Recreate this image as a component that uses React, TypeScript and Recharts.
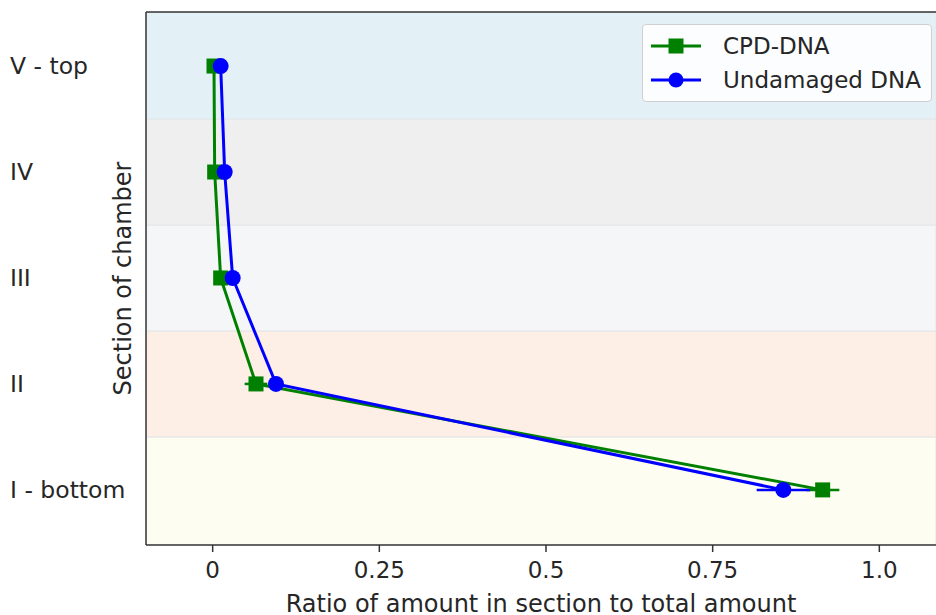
import React from "react";
import {
  ScatterChart,
  Scatter,
  XAxis,
  YAxis,
  ErrorBar,
  ReferenceArea,
  ReferenceLine,
} from "recharts";

const sections = ["I - bottom", "II", "III", "IV", "V - top"];
const cpdDna = [0.915, 0.065, 0.012, 0.003, 0.002];
const cpdErr = [0.025, 0.017, 0.003, 0.002, 0.002];
const undamagedDna = [0.856, 0.095, 0.03, 0.018, 0.012];
const undamagedErr = [0.04, 0.006, 0.004, 0.003, 0.002];
const bandColors = ["#fefdf1", "#fdeee6", "#f5f6f8", "#efefef", "#e3f1f7"];
const xTicks = [0, 0.25, 0.5, 0.75, 1.0];
const xTickLabels = ["0", "0.25", "0.5", "0.75", "1.0"];

const FONT = "DejaVu Sans, sans-serif";
const GREEN = "#008000";
const BLUE = "#0000ff";

const cpdData = sections.map((s, i) => ({ x: cpdDna[i], y: i, err: cpdErr[i] }));
const undData = sections.map((s, i) => ({ x: undamagedDna[i], y: i, err: undamagedErr[i] }));

const Square = (props: any) => (
  <rect x={props.cx - 7.5} y={props.cy - 7.5} width={15} height={15} fill={GREEN} />
);
const Dot = (props: any) => <circle cx={props.cx} cy={props.cy} r={8} fill={BLUE} />;

const YTick = (props: any) => {
  const { y, payload } = props;
  return (
    <text x={10} y={y} dy={8} textAnchor="start" fill="#262626" fontSize={23.5} fontFamily={FONT}>
      {sections[payload.value]}
    </text>
  );
};

const LegendBox = () => (
  <div
    style={{
      position: "absolute",
      left: 642,
      top: 24,
      width: 290,
      height: 78,
      boxSizing: "border-box",
      background: "rgba(255,255,255,0.85)",
      border: "1px solid #d0d0d0",
      borderRadius: 4,
      padding: "4px 6px",
      fontFamily: FONT,
      fontSize: 23,
      color: "#262626",
    }}
  >
    {[
      { name: "CPD-DNA", color: GREEN, square: true },
      { name: "Undamaged DNA", color: BLUE, square: false },
    ].map((e) => (
      <div key={e.name} style={{ display: "flex", alignItems: "center", height: 34 }}>
        <svg width={54} height={20} style={{ marginRight: 20 }}>
          <line x1={2} y1={10} x2={52} y2={10} stroke={e.color} strokeWidth={3} />
          {e.square ? (
            <rect x={19.5} y={2.5} width={15} height={15} fill={e.color} />
          ) : (
            <circle cx={27} cy={10} r={7.5} fill={e.color} />
          )}
        </svg>
        <span>{e.name}</span>
      </div>
    ))}
  </div>
);

export default function App() {
  return (
    <div style={{ position: "absolute", left: 0, top: 0, width: 936, height: 615, background: "#fff" }}>
      <ScatterChart width={936} height={615} margin={{ top: 12, right: 0, bottom: 0, left: 0 }}>
        {bandColors.map((c, i) => (
          <ReferenceArea
            key={i}
            y1={i === 0 ? -0.52 : i - 0.5}
            y2={i === 4 ? 4.51 : i + 0.5}
            fill={c}
            fillOpacity={1}
            stroke="#e4e6e8"
            strokeWidth={1}
            ifOverflow="hidden"
          />
        ))}
        <XAxis
          type="number"
          dataKey="x"
          domain={[-0.1, 1.085]}
          ticks={xTicks}
          tickFormatter={(v: number) => xTickLabels[xTicks.indexOf(v)] ?? String(v)}
          allowDataOverflow
          height={70}
          stroke="#333"
          strokeWidth={1.5}
          tickSize={7}
          tick={{ fill: "#262626", fontSize: 23, fontFamily: FONT, dy: 8 }}
          label={{
            value: "Ratio of amount in section to total amount",
            position: "insideBottom",
            offset: 3,
            fill: "#262626",
            fontSize: 24,
            fontFamily: FONT,
          }}
        />
        <YAxis
          type="number"
          dataKey="y"
          domain={[-0.52, 4.51]}
          ticks={[0, 1, 2, 3, 4]}
          allowDataOverflow
          width={146}
          stroke="#333"
          strokeWidth={1.5}
          tickLine={false}
          tick={<YTick />}
          label={{
            value: "Section of chamber",
            angle: -90,
            position: "insideRight",
            offset: 24,
            fill: "#262626",
            fontSize: 24,
            fontFamily: FONT,
            style: { textAnchor: "middle" },
          }}
        />
        <ReferenceLine y={4.51} stroke="#333" strokeWidth={1.5} ifOverflow="visible" />
        <Scatter
          name="CPD-DNA"
          data={cpdData}
          line={{ stroke: GREEN, strokeWidth: 3 }}
          lineType="joint"
          shape={<Square />}
          isAnimationActive={false}
        >
          <ErrorBar dataKey="err" direction="x" width={0} stroke={GREEN} strokeWidth={2.5} />
        </Scatter>
        <Scatter
          name="Undamaged DNA"
          data={undData}
          line={{ stroke: BLUE, strokeWidth: 3 }}
          lineType="joint"
          shape={<Dot />}
          isAnimationActive={false}
        >
          <ErrorBar dataKey="err" direction="x" width={0} stroke={BLUE} strokeWidth={2.5} />
        </Scatter>
      </ScatterChart>
      <LegendBox />
    </div>
  );
}
